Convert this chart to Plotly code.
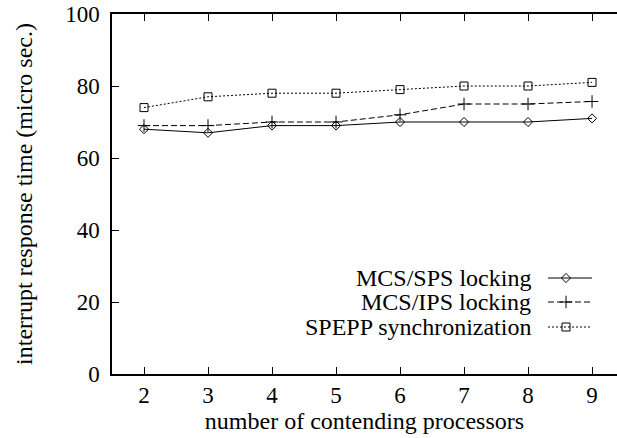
import plotly.graph_objects as go

processors = [2, 3, 4, 5, 6, 7, 8, 9]
mcs_sps = [68, 67, 69, 69, 70, 70, 70, 71]
mcs_ips = [69, 69, 70, 70, 72, 75, 75, 75.7]
spepp = [74, 77, 78, 78, 79, 80, 80, 81]

series_names = ["MCS/SPS locking", "MCS/IPS locking", "SPEPP synchronization"]
y_ticks = [0, 20, 40, 60, 80, 100]
x_ticks = processors

FONT = "Liberation Serif"
styles = [
    dict(dash="solid", symbol="diamond-open", size=7),
    dict(dash="6px,3px", symbol="cross-thin-open", size=9),
    dict(dash="2px,2px", symbol="square-open", size=8),
]

fig = go.Figure()
for name, ys, st in zip(series_names, [mcs_sps, mcs_ips, spepp], styles):
    fig.add_trace(go.Scatter(
        x=processors, y=ys, mode="lines+markers", name=name,
        line=dict(color="black", width=1, dash=st["dash"]),
        marker=dict(symbol=st["symbol"], size=st["size"], color="black",
                    line=dict(color="black", width=1)),
        showlegend=False,
    ))

# manual key (gnuplot style: text right-aligned, sample on right), pixel coords on overlay axes
key_rows = [278, 302, 327]
for name, st, yrow in zip(series_names, styles, key_rows):
    fig.add_trace(go.Scatter(
        x=[548, 566, 592], y=[yrow, yrow, yrow], xaxis="x2", yaxis="y2",
        mode="lines", line=dict(color="black", width=1, dash=st["dash"]),
        showlegend=False, hoverinfo="skip"))
    fig.add_trace(go.Scatter(
        x=[566], y=[yrow], xaxis="x2", yaxis="y2", mode="markers",
        marker=dict(symbol=st["symbol"], size=st["size"], color="black",
                    line=dict(color="black", width=1)),
        showlegend=False, hoverinfo="skip"))
    fig.add_annotation(x=533, y=yrow, xref="x2", yref="y2", text=name,
                       showarrow=False, xanchor="right", yanchor="middle",
                       font=dict(family=FONT, size=24, color="black"))

fig.update_layout(
    width=617, height=438,
    margin=dict(l=112, r=0, t=14, b=64),
    paper_bgcolor="white", plot_bgcolor="white",
    font=dict(family=FONT, size=24, color="black"),
    xaxis=dict(range=[1.5, 9.39], tickvals=x_ticks, ticks="inside", ticklen=7,
               tickcolor="black", showline=True, linecolor="black", linewidth=1.5,
               mirror="ticks", showgrid=False, zeroline=False,
               tickfont=dict(family=FONT, size=23),
               title=dict(text="number of contending processors", standoff=0,
                          font=dict(family=FONT, size=24))),
    yaxis=dict(range=[0, 100], tickvals=y_ticks, ticks="inside", ticklen=7,
               tickcolor="black", showline=True, linecolor="black", linewidth=1.5,
               mirror=False, showgrid=False, zeroline=False,
               tickfont=dict(family=FONT, size=23), ticklabelstandoff=6,
               title=dict(text="interrupt response time (micro sec.)", standoff=26,
                          font=dict(family=FONT, size=24))),
    xaxis2=dict(range=[112, 617], overlaying="x", visible=False, fixedrange=True),
    yaxis2=dict(range=[374, 14], overlaying="y", visible=False, fixedrange=True),
)

fig.write_html("out.html", config={"displayModeBar": False},
               post_script="document.body.style.margin='0px';")
